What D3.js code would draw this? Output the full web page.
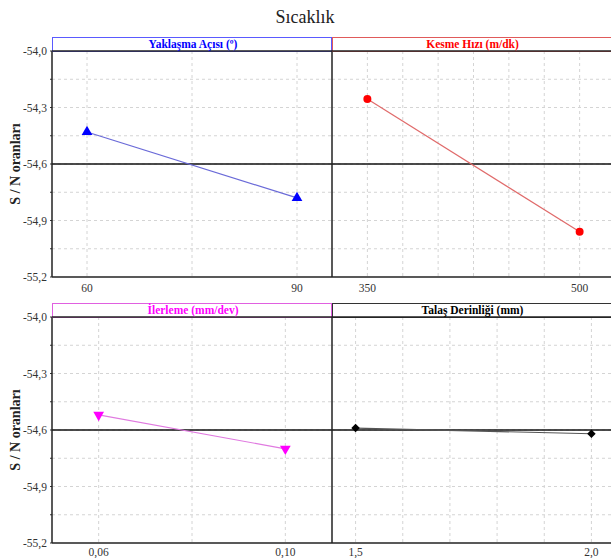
<!DOCTYPE html>
<html><head><meta charset="utf-8">
<script src="https://cdn.jsdelivr.net/npm/d3@7"></script>
<style>body{margin:0;background:#fff}svg{display:block}</style>
</head><body><svg id="c" width="611" height="558" font-family="'Liberation Serif', 'Times New Roman', 'DejaVu Serif', serif"></svg>
<script>
const title = "Sıcaklık";
const yTitle = "S / N oranları";
const yTicks = [-54.0, -54.3, -54.6, -54.9, -55.2];
const yGrid = [-54.15, -54.3, -54.45, -54.6, -54.75, -54.9, -55.05];
const meanSN = -54.6;

const factorNames = ["Yaklaşma Açısı (º)", "Kesme Hızı (m/dk)", "İlerleme (mm/dev)", "Talaş Derinliği (mm)"];
const levels1 = [60, 90];       const values1 = [-54.43, -54.78];
const levels2 = [350, 500];     const values2 = [-54.255, -54.96];
const levels3 = [0.06, 0.10];   const values3 = [-54.52, -54.70];
const levels4 = [1.5, 2.0];     const values4 = [-54.59, -54.62];
const tickLabels1 = ["60", "90"];
const tickLabels2 = ["350", "500"];
const tickLabels3 = ["0,06", "0,10"];
const tickLabels4 = ["1,5", "2,0"];
const grid1 = [60, 75, 90];
const grid2 = [350, 375, 400, 425, 450, 475, 500];
const grid3 = [0.06, 0.08, 0.10];
const grid4 = [1.5, 1.6, 1.7, 1.8, 1.9, 2.0];

const panels = [
  {name: factorNames[0], levels: levels1, values: values1, labels: tickLabels1, grid: grid1, domain: [55, 95], color: "#0000ff", line: "#6a6ad8", border: "#5a5aff", marker: "triUp", x0: 52, x1: 332, row: 0},
  {name: factorNames[1], levels: levels2, values: values2, labels: tickLabels2, grid: grid2, domain: [325, 525], color: "#ff0000", line: "#e06a6a", border: "#e05a5a", marker: "circle", x0: 332, x1: 615, row: 0},
  {name: factorNames[2], levels: levels3, values: values3, labels: tickLabels3, grid: grid3, domain: [0.05, 0.11], color: "#ff00ff", line: "#e07ae0", border: "#e060e0", marker: "triDown", x0: 52, x1: 332, row: 1},
  {name: factorNames[3], levels: levels4, values: values4, labels: tickLabels4, grid: grid4, domain: [1.45, 2.05], color: "#000000", line: "#555555", border: "#333333", marker: "diamond", x0: 332, x1: 615, row: 1}
];
const rows = [{top: 51, bottom: 277, hdr: 37, lab: 292}, {top: 317, bottom: 543, hdr: 303, lab: 556}];

const svg = d3.select("#c");
svg.append("text").attr("x", 305).attr("y", 23).attr("text-anchor", "middle")
  .attr("font-size", 18).attr("fill", "#222").text(title);

rows.forEach((r, ri) => {
  const y = d3.scaleLinear().domain([-54.0, -55.2]).range([r.top, r.bottom]);
  r.y = y;
  const ga = svg.append("g");
  yTicks.forEach(t => {
    ga.append("text").attr("x", 47).attr("y", y(t) + 4).attr("text-anchor", "end")
      .attr("font-size", 11.5).attr("fill", "#333").text(d3.format(".1f")(t).replace("−", "-").replace(".", ","));
  });
  [-54.15, -54.45, -54.75, -55.05].concat(yTicks).forEach(t => {
    ga.append("line").attr("x1", 50).attr("x2", 52).attr("y1", y(t)).attr("y2", y(t)).attr("stroke", "#333").attr("stroke-width", 1);
  });
  svg.append("text").attr("transform", `translate(20,${(r.top + r.bottom) / 2}) rotate(-90)`)
    .attr("text-anchor", "middle").attr("font-size", 14).attr("font-weight", "bold").attr("fill", "#222").text(yTitle);
});

panels.forEach(p => {
  const r = rows[p.row];
  const y = r.y;
  const x = d3.scaleLinear().domain(p.domain).range([p.x0, p.x1]);
  const g = svg.append("g");
  p.grid.forEach(v => g.append("line").attr("x1", x(v)).attr("x2", x(v)).attr("y1", r.top).attr("y2", r.bottom)
    .attr("stroke", "#d4d4d4").attr("stroke-dasharray", "3,3").attr("stroke-width", 1));
  yGrid.forEach(v => g.append("line").attr("x1", p.x0).attr("x2", p.x1).attr("y1", y(v)).attr("y2", y(v))
    .attr("stroke", "#d4d4d4").attr("stroke-dasharray", "3,3").attr("stroke-width", 1));
  g.append("line").attr("x1", p.x0).attr("x2", p.x1).attr("y1", y(meanSN)).attr("y2", y(meanSN))
    .attr("stroke", "#111").attr("stroke-width", 1.5);
  g.append("line").attr("x1", p.x0).attr("x2", p.x1).attr("y1", r.bottom).attr("y2", r.bottom).attr("stroke", "#222").attr("stroke-width", 1.5);
  g.append("line").attr("x1", p.x0).attr("x2", p.x0).attr("y1", r.top).attr("y2", r.bottom).attr("stroke", "#222").attr("stroke-width", 1.5);
  g.append("rect").attr("x", p.x0 + 0.5).attr("y", r.hdr + 0.5).attr("width", p.x1 - p.x0 - 1).attr("height", r.top - r.hdr)
    .attr("fill", "#fff").attr("stroke", p.border).attr("stroke-width", 1);
  g.append("line").attr("x1", p.x0).attr("x2", p.x1).attr("y1", r.top).attr("y2", r.top).attr("stroke", "#222").attr("stroke-width", 1.5);
  g.append("text").attr("x", (p.x0 + Math.min(p.x1, 611)) / 2 + 1).attr("y", r.hdr + 11).attr("text-anchor", "middle")
    .attr("font-size", 11.5).attr("font-weight", "bold").attr("fill", p.color).text(p.name);
  p.levels.forEach((v, i) => g.append("text").attr("x", x(v)).attr("y", r.lab).attr("text-anchor", "middle")
    .attr("font-size", 11.5).attr("fill", "#333").text(p.labels[i]));
  const pts = p.levels.map((v, i) => [x(v), y(p.values[i])]);
  g.append("path").attr("d", d3.line()(pts)).attr("fill", "none").attr("stroke", p.line).attr("stroke-width", 1.2);
  const sym = {triUp: d3.symbolTriangle, triDown: d3.symbolTriangle, circle: d3.symbolCircle, diamond: d3.symbolSquare}[p.marker];
  const size = {triUp: 50, triDown: 50, circle: 50, diamond: 36}[p.marker];
  const rot = {triUp: 0, triDown: 180, circle: 0, diamond: 45}[p.marker];
  pts.forEach(pt => g.append("path").attr("d", d3.symbol().type(sym).size(size)())
    .attr("transform", `translate(${pt[0]},${pt[1]}) rotate(${rot})`).attr("fill", p.color));
});
</script></body></html>
